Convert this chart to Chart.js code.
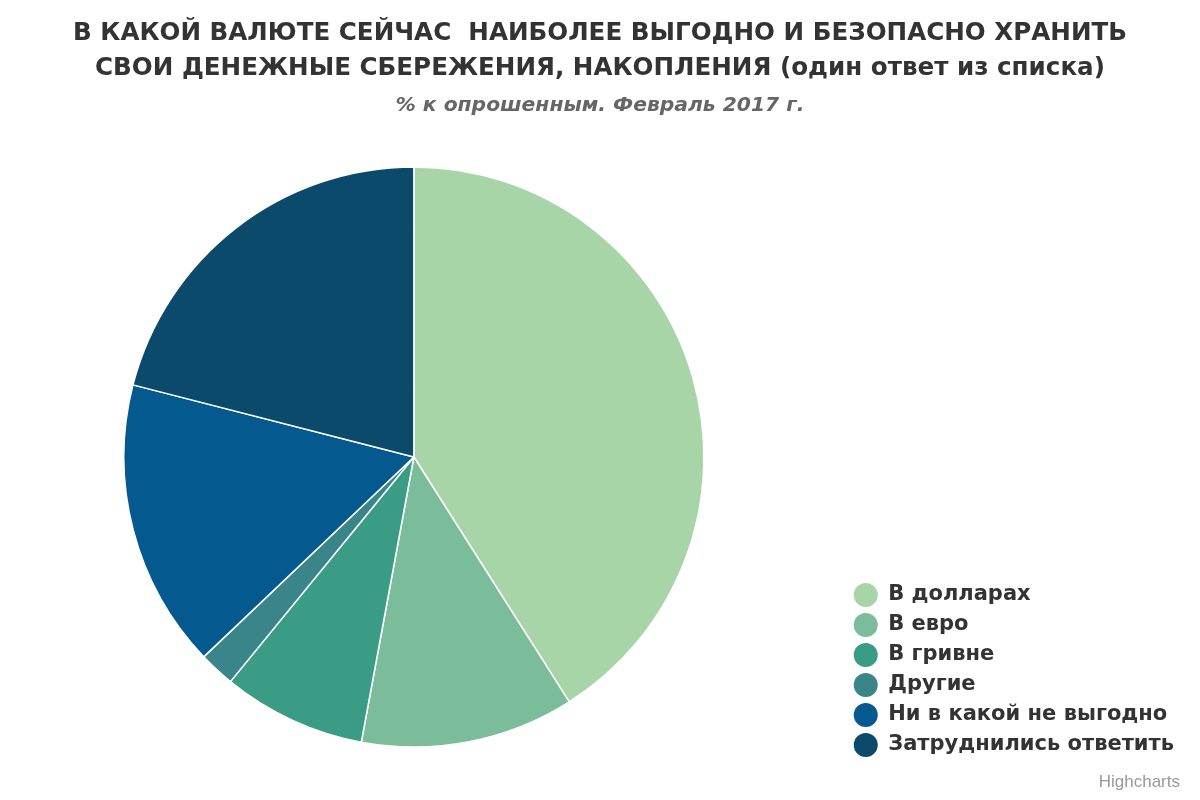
<!DOCTYPE html>
<html lang="ru">
<head>
<meta charset="utf-8">
<title>Валюта сбережений</title>
<script src="https://cdn.jsdelivr.net/npm/chart.js@4/dist/chart.umd.min.js"></script>
<style>
    html, body { margin: 0; padding: 0; background: #fff; overflow: hidden; }
    #wrap { position: relative; width: 1200px; height: 800px; font-family: "DejaVu Sans", sans-serif; }
    #title {
        position: absolute; left: 0; top: 14px; width: 1200px; text-align: center;
        font-size: 24.6px; font-weight: bold; color: #333; line-height: 35px;
    }
    #subtitle {
        position: absolute; left: 0; top: 92px; width: 1200px; text-align: center;
        font-size: 20.3px; font-weight: bold; font-style: italic; color: #666;
    }
    #credits {
        position: absolute; right: 20px; top: 772px;
        font-family: "Liberation Sans", Arial, sans-serif; font-size: 17px; color: #999;
    }
    /* canvas shifted left so the pie centre lands where the reference has it */
    #chart { position: absolute; left: -20px; top: 0; }
</style>
</head>
<body>
<div id="wrap">
    <canvas id="chart" width="1220" height="800"></canvas>
    <div id="title">В КАКОЙ ВАЛЮТЕ СЕЙЧАС &nbsp;НАИБОЛЕЕ ВЫГОДНО И БЕЗОПАСНО ХРАНИТЬ<br>СВОИ ДЕНЕЖНЫЕ СБЕРЕЖЕНИЯ, НАКОПЛЕНИЯ (один ответ из списка)</div>
    <div id="subtitle">% к опрошенным. Февраль 2017 г.</div>
    <div id="credits">Highcharts</div>
</div>
<script>
// answers, % of respondents
const answers = ['В долларах', 'В евро', 'В гривне', 'Другие', 'Ни в какой не выгодно', 'Затруднились ответить'];
const shares = [41.0, 11.9, 8.0, 2.0, 16.1, 21.0];
const sliceColors = ['#a8d5a8', '#7bbd9b', '#3a9c85', '#3a8589', '#045a8f', '#0b4a6b'];

const defaultLabels = Chart.overrides.pie.plugins.legend.labels.generateLabels;

new Chart(document.getElementById('chart'), {
    type: 'pie',
    data: {
        labels: answers,
        datasets: [{
            data: shares,
            backgroundColor: sliceColors,
            borderColor: '#ffffff',
            borderWidth: 1.5,
            hoverOffset: 0
        }]
    },
    options: {
        responsive: false,
        animation: false,
        radius: 290,
        layout: {
            // legend floats bottom right
            padding: { left: 0, right: 16, top: 151, bottom: 37 }
        },
        plugins: {
            title: { display: false },
            tooltip: { enabled: false },
            legend: {
                position: 'right',
                align: 'end',
                labels: {
                    boxWidth: 24,
                    boxHeight: 24,
                    padding: 6,
                    color: '#333333',
                    font: { family: '"DejaVu Sans", sans-serif', size: 21, weight: 'bold' },
                    generateLabels: (chart) => defaultLabels(chart).map(item => {
                        item.borderRadius = 12;
                        item.lineWidth = 0;
                        return item;
                    })
                }
            }
        }
    }
});
</script>
</body>
</html>
